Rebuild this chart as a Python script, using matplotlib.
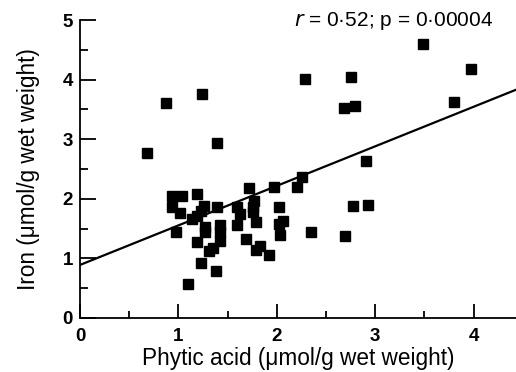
import matplotlib
matplotlib.use("Agg")
import matplotlib.pyplot as plt
from matplotlib.ticker import MultipleLocator

plt.rcParams['font.family'] = ['Liberation Sans', 'DejaVu Sans']

phytic = [0.68, 0.875, 1.24, 1.39, 0.93, 1.04, 1.19, 0.94, 1.02, 1.265,
          1.23, 1.39, 1.14, 1.19, 0.98, 1.27, 1.27, 1.42, 1.42, 1.42,
          1.19, 1.31, 1.35, 1.23, 1.38, 1.10, 2.91, 2.255, 2.20, 1.97,
          1.72, 1.77, 1.76, 1.76, 1.60, 1.63, 2.02, 2.77, 2.93, 1.60,
          1.79, 2.06, 2.02, 2.03, 2.35, 2.69, 1.69, 1.83, 1.79, 1.92,
          3.49, 3.97, 2.75, 2.68, 2.79, 3.80, 2.29]
iron = [2.77, 3.60, 3.76, 2.94, 2.05, 2.05, 2.08, 1.87, 1.76, 1.88,
        1.80, 1.86, 1.66, 1.71, 1.44, 1.53, 1.45, 1.56, 1.45, 1.29,
        1.28, 1.13, 1.17, 0.92, 0.79, 0.565, 2.63, 2.37, 2.19, 2.19,
        2.18, 1.97, 1.87, 1.78, 1.86, 1.745, 1.86, 1.88, 1.90, 1.56,
        1.61, 1.63, 1.57, 1.40, 1.44, 1.38, 1.32, 1.20, 1.14, 1.06,
        4.59, 4.18, 4.04, 3.52, 3.55, 3.62, 4.01]

fit_x = [0.0, 4.43]
fit_y = [0.89, 3.83]

x_ticks = [0, 1, 2, 3, 4]
y_ticks = [0, 1, 2, 3, 4, 5]

fig = plt.figure(figsize=(5.16, 3.72), dpi=100)
ax = fig.add_axes([0.155, 0.1452, 0.845, 0.8010])

ax.plot(fit_x, fit_y, color='black', lw=1.6, zorder=2)
ax.plot(phytic, iron, 's', color='black', markersize=7.5, zorder=3)

ax.set_xlim(0, 4.43)
ax.set_ylim(0, 5)
ax.spines['top'].set_visible(False)
ax.spines['right'].set_visible(False)
ax.spines['left'].set_linewidth(1.3)
ax.spines['bottom'].set_linewidth(1.3)

ax.set_xticks(x_ticks)
ax.set_yticks(y_ticks)
ax.xaxis.set_minor_locator(MultipleLocator(0.5))
ax.yaxis.set_minor_locator(MultipleLocator(0.5))
ax.tick_params(axis='x', which='major', direction='in', length=10, width=1.3, pad=7, labelsize=13.5)
ax.tick_params(axis='x', which='minor', direction='in', length=5, width=1.3)
ax.tick_params(axis='y', which='major', direction='in', length=11.5, width=1.3, pad=5, labelsize=13.5)
ax.tick_params(axis='y', which='minor', direction='in', length=5.8, width=1.3)
for lab in ax.get_xticklabels() + ax.get_yticklabels():
    lab.set_fontweight('bold')

ax.set_xlabel('Phytic acid (\u03bcmol/g wet weight)', fontsize=16.3, labelpad=2)
ax.set_ylabel('Iron (\u03bcmol/g wet weight)', fontsize=16.3, labelpad=16)

ax.text(0.948, 0.998, '$\\it{r}$ = 0\u00b752; p = 0\u00b700004', transform=ax.transAxes,
        ha='right', va='center', fontsize=15)

fig.savefig('out.png', dpi=100)
